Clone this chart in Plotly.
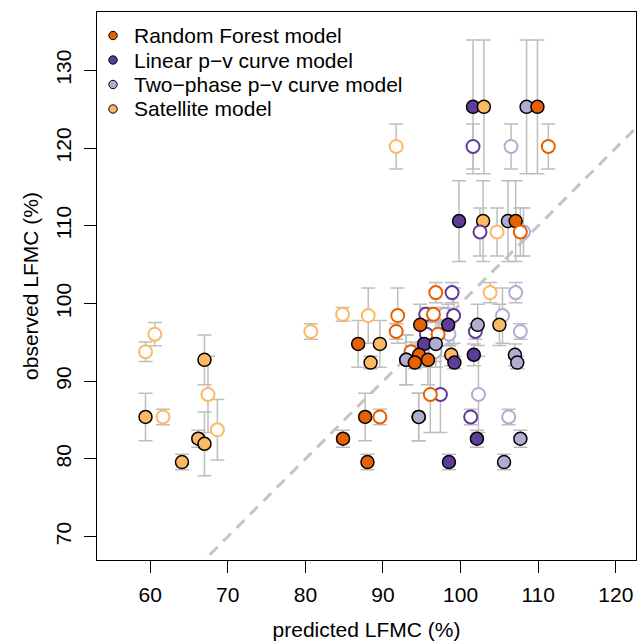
import plotly.graph_objects as go

# ---- data ----
models = ["Random Forest model", "Linear p−v curve model",
          "Two−phase p−v curve model", "Satellite model"]
colors = ["#E66101", "#5E3C99", "#B2ABD2", "#FDB863"]

# observed LFMC (%) and its uncertainty; filled = 1 for solid markers
obs_y   = [125.3, 120.2, 110.6, 109.2, 101.4, 98.6, 98.45, 96.4, 96.05, 93.8,
           97.25, 94.8, 93.4, 92.75, 92.4, 88.3, 85.4, 85.4, 83.75, 82.6, 81.95, 79.6]
obs_err = [8.6, 2.9, 5.2, 3.1, 1.3, 0.9, 3.55, 1.0, 1.5, 1.25,
           2.65, 3.0, 1.4, 3.2, 0.8, 4.9, 1.0, 3.05, 3.9, 1.1, 4.1, 1.0]
filled  = [1, 0, 1, 0, 0, 0, 0, 0, 0, 0,
           1, 1, 1, 1, 1, 0, 0, 1, 0, 1, 1, 1]

# predicted LFMC (%) for each model
pred_rf  = [109.9, 111.3, 107.1, 107.7, 96.8, 96.5, 91.9, 91.7, 97.1, 93.6,
            94.8, 86.8, 94.65, 95.8, 94.1, 96.1, 89.6, 87.7, None, 84.85, None, 88.0]
pred_lin = [101.6, 101.6, 99.8, 102.5, 98.9, 95.5, 99.1, 101.9, 95.6, 95.1,
            98.4, 95.3, 101.7, 93.0, 99.2, 97.4, 101.3, 94.6, None, 102.1, None, 98.5]
pred_tp  = [108.5, 106.5, 106.1, 108.1, 107.1, 97.95, 105.4, 107.7, 98.5, 96.7,
            102.2, 96.8, 107.0, 93.0, 107.3, 102.3, 106.2, 94.6, None, 107.7, None, 105.6]
pred_sat = [103.0, 91.7, 102.9, 104.7, 103.8, 84.8, 88.1, 80.7, 60.6, 59.4,
            105.0, 89.6, 98.8, 67.0, 88.4, 67.45, 61.65, 59.4, 68.66, 66.2, 67.0, 64.1]

x_ticks = [60, 70, 80, 90, 100, 110, 120]
y_ticks = [70, 80, 90, 100, 110, 120, 130]

preds = [pred_rf, pred_lin, pred_tp, pred_sat]
draw_order = [1, 2, 0, 3]

xs, ys, es, fill_c, line_c, line_w = [], [], [], [], [], []
for i in range(len(obs_y)):
    for m in draw_order:
        v = preds[m][i]
        if v is None:
            continue
        xs.append(v)
        ys.append(obs_y[i])
        es.append(obs_err[i])
        if filled[i]:
            fill_c.append(colors[m]); line_c.append("black"); line_w.append(1.5)
        else:
            fill_c.append("white"); line_c.append(colors[m]); line_w.append(2)

W, H = 638, 642
PL, PR, PT, PB = 97, 636, 12, 560   # plot box in window pixels
pw, ph = PR - PL, PB - PT

def px2paper(x, y):
    return (x - PL) / pw, 1 - (y - PT) / ph

FS = 21

fig = go.Figure()

# 1:1 line
fig.add_trace(go.Scatter(x=[40, 140], y=[40, 140], mode="lines",
                         line=dict(color="#C4C4C4", width=3, dash="11px,8px"),
                         showlegend=False, hoverinfo="skip"))

# error bars
fig.add_trace(go.Scatter(x=xs, y=ys, mode="markers",
                         marker=dict(size=2, opacity=0),
                         error_y=dict(type="data", array=es, visible=True,
                                      color="#BEBEBE", thickness=1.5, width=7),
                         showlegend=False, hoverinfo="skip"))

# points
fig.add_trace(go.Scatter(x=xs, y=ys, mode="markers",
                         marker=dict(size=13, color=fill_c,
                                     line=dict(color=line_c, width=line_w)),
                         showlegend=False))

# legend (drawn as layout items to match R's compact spacing)
legend_rows = [35.5, 60, 84.5, 109]
for name, c, ry in zip(models, colors, legend_rows):
    cx, cy = px2paper(113, ry)
    rx, ryy = 4.2 / pw, 4.2 / ph
    fig.add_shape(type="circle", xref="paper", yref="paper",
                  x0=cx - rx, x1=cx + rx, y0=cy - ryy, y1=cy + ryy,
                  fillcolor=c, line=dict(color="black", width=1))
    tx, ty = px2paper(132, ry)
    fig.add_annotation(xref="paper", yref="paper", x=tx, y=ty, text=name,
                       showarrow=False, xanchor="left", yanchor="middle",
                       font=dict(size=FS, color="black"))

axis_common = dict(showline=True, linecolor="black", linewidth=1, mirror=True,
                   ticks="outside", ticklen=12, tickwidth=1, tickcolor="black",
                   showgrid=False, zeroline=False,
                   tickfont=dict(size=FS, color="black"))

fig.update_xaxes(range=[53.15, 122.6], tickvals=x_ticks,
                 ticklabelstandoff=4,
                 title=dict(text="predicted LFMC (%)", font=dict(size=FS), standoff=17),
                 **axis_common)
fig.update_yaxes(range=[67.0, 137.5], tickvals=y_ticks, tickangle=-90,
                 ticklabelstandoff=5,
                 title=dict(text="observed LFMC (%)", font=dict(size=FS), standoff=7),
                 **axis_common)

fig.update_layout(width=W, height=H,
                  margin=dict(l=PL, r=W - PR, t=PT, b=H - PB),
                  plot_bgcolor="white", paper_bgcolor="white",
                  font=dict(family="Liberation Sans, Arial, sans-serif", size=FS, color="black"),
                  showlegend=False)

fig.write_html("out.html", config={"displayModeBar": False},
               post_script="document.body.style.margin='0';document.body.style.overflow='hidden';")
